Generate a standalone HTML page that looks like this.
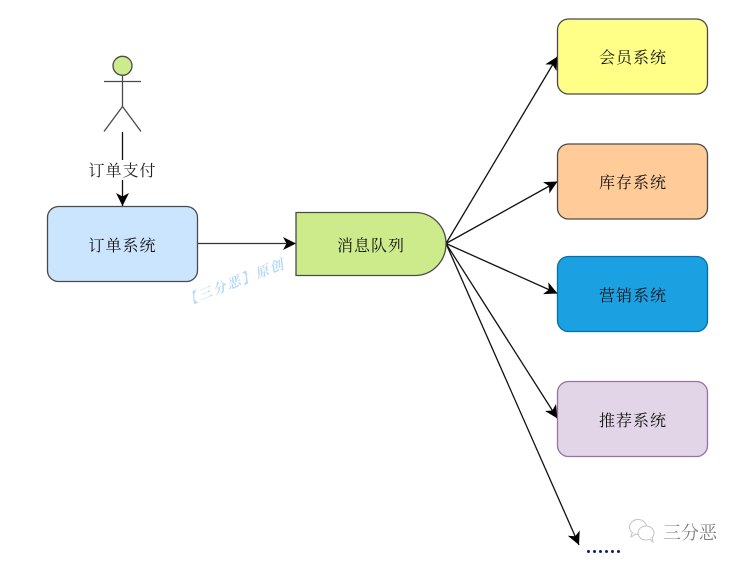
<!DOCTYPE html>
<html>
<head>
<meta charset="utf-8">
<style>
html,body{margin:0;padding:0;background:#fff}
body{width:740px;height:564px;overflow:hidden}
svg{display:block}
text{font-family:"Liberation Serif","Noto Serif CJK SC",serif}
</style>
</head>
<body>
<svg width="740" height="564" viewBox="0 0 740 564" xmlns="http://www.w3.org/2000/svg">
<defs>
<marker id="a" markerUnits="userSpaceOnUse" markerWidth="16" markerHeight="14" refX="13" refY="7" orient="auto">
<path d="M0 0.500L13 7L0 13.500L3.500 7Z" fill="#000"/>
</marker>
</defs>

<!-- Actor -->
<circle cx="122.500" cy="65.800" r="9.500" fill="#cdeb8b" stroke="#4a4a4a" stroke-width="1.300"/>
<path d="M122.500 75.500V106.500M104 81.500H141M122.500 106.500L104 131.500M122.500 106.500L141 131.500" fill="none" stroke="#4a4a4a" stroke-width="1.300"/>

<!-- Connectors -->
<line x1="122.500" y1="132" x2="122.500" y2="206" stroke="#111" stroke-width="1.300" marker-end="url(#a)"/>
<rect x="86" y="160" width="73" height="20" fill="#fff"/>
<text x="122.500" y="176" font-size="16" text-anchor="middle" letter-spacing="1" fill="#222">订单支付</text>

<line x1="197.500" y1="243.500" x2="296" y2="243.500" stroke="#333" stroke-width="1.300" marker-end="url(#a)"/>
<line x1="446" y1="243.500" x2="557.500" y2="56.500" stroke="#111" stroke-width="1.300" marker-end="url(#a)"/>
<line x1="446" y1="243.500" x2="557.500" y2="181.500" stroke="#111" stroke-width="1.300" marker-end="url(#a)"/>
<line x1="446" y1="243.500" x2="557.500" y2="293.500" stroke="#111" stroke-width="1.300" marker-end="url(#a)"/>
<line x1="446" y1="243.500" x2="557.500" y2="418.500" stroke="#111" stroke-width="1.300" marker-end="url(#a)"/>
<line x1="446" y1="243.500" x2="579" y2="545" stroke="#111" stroke-width="1.300" marker-end="url(#a)"/>

<!-- Order system -->
<rect x="47.500" y="206.500" width="150" height="75" rx="11" fill="#cce5ff" stroke="#4a4a4a" stroke-width="1.300"/>
<text x="122.500" y="251" font-size="16" text-anchor="middle" letter-spacing="1" fill="#111">订单系统</text>

<!-- Message queue -->
<path d="M296 212.500H415C432.500 212.500 446 226.500 446 243.750C446 261 432.500 275.500 415 275.500H296Z" fill="#cdeb8b" stroke="#4a4a4a" stroke-width="1.300"/>
<text x="371" y="251" font-size="16" text-anchor="middle" letter-spacing="1" fill="#111">消息队列</text>

<!-- Target systems -->
<rect x="557.500" y="19" width="150" height="75" rx="11" fill="#ffff88" stroke="#4a4a4a" stroke-width="1.300"/>
<text x="633" y="63" font-size="16" text-anchor="middle" letter-spacing="1" fill="#111">会员系统</text>

<rect x="557.500" y="144" width="150" height="75" rx="11" fill="#ffcc99" stroke="#4a4a4a" stroke-width="1.300"/>
<text x="633" y="188" font-size="16" text-anchor="middle" letter-spacing="1" fill="#111">库存系统</text>

<rect x="557.500" y="256.500" width="150" height="75" rx="11" fill="#1ba1e2" stroke="#006eaf" stroke-width="1.300"/>
<text x="633" y="301" font-size="16" text-anchor="middle" letter-spacing="1" fill="#111">营销系统</text>

<rect x="557.500" y="381.500" width="150" height="75" rx="11" fill="#e1d5e7" stroke="#9673a6" stroke-width="1.300"/>
<text x="633" y="426" font-size="16" text-anchor="middle" letter-spacing="1" fill="#111">推荐系统</text>

<!-- Dots -->
<g fill="#0b1f6e">
<circle cx="588.500" cy="551.500" r="1.500"/>
<circle cx="594.500" cy="551.500" r="1.500"/>
<circle cx="600.500" cy="551.500" r="1.500"/>
<circle cx="606.500" cy="551.500" r="1.500"/>
<circle cx="612.500" cy="551.500" r="1.500"/>
<circle cx="618.500" cy="551.500" r="1.500"/>
</g>

<!-- Watermark -->
<text x="0" y="0" transform="translate(186 306) rotate(-21)" font-size="13.500" font-style="italic" font-weight="bold" letter-spacing="1.800" fill="#b5d9f7">【三分恶】原创</text>

<!-- Logo -->
<g fill="#fff" stroke="#c4c4c4" stroke-width="1">
<ellipse cx="638" cy="527" rx="8.500" ry="7.500"/>
<path d="M632 533L631 537L636 534"/>
<ellipse cx="646" cy="533" rx="8" ry="7"/>
<path d="M650 539L653 542L652 537"/>
</g>
<text x="663" y="539" font-size="18" fill="#808080">三分恶</text>
</svg>
</body>
</html>
